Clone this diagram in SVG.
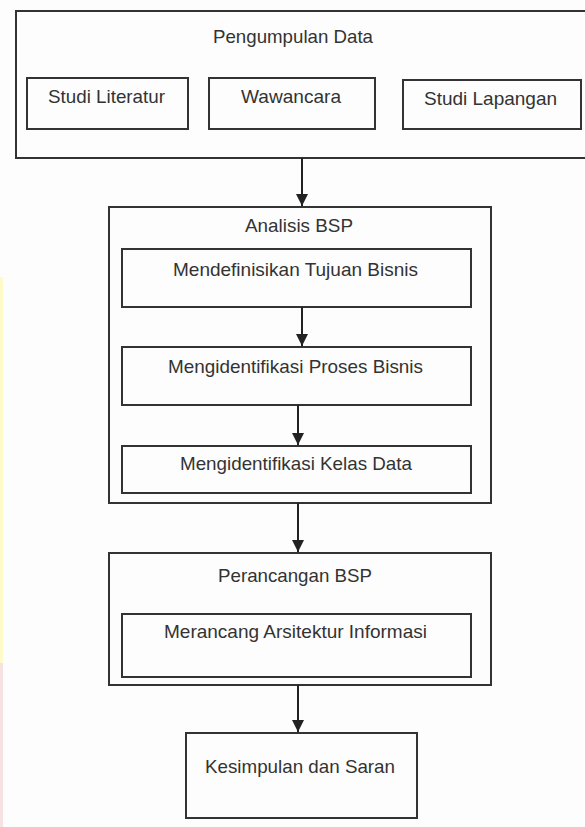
<svg xmlns="http://www.w3.org/2000/svg" width="585" height="827" viewBox="0 0 585 827">
<defs>
<style>
.box{fill:none;stroke:#333;stroke-width:2}
.inner{fill:none;stroke:#333;stroke-width:2}
.t{font-family:"Liberation Sans",Arial,sans-serif;font-size:18.5px;fill:#333;text-anchor:middle}
.ln{stroke:#222;stroke-width:2;fill:none}
</style>
<marker id="ah" markerUnits="userSpaceOnUse" markerWidth="12" markerHeight="12" viewBox="0 0 12 12" refX="12" refY="6" orient="auto">
<path d="M0,0 L12,6 L0,12 Z" fill="#222"/>
</marker>
</defs>
<rect x="0" y="0" width="585" height="827" fill="#fdfdfd"/>
<rect x="0" y="277" width="3" height="386" fill="#fffbc8"/>
<rect x="0" y="663" width="3" height="164" fill="#f6e2e2"/>

<g id="pengumpulan-data">
<rect class="box" x="16" y="11" width="580" height="147"/>
<text class="t" x="293" y="43" textLength="160" lengthAdjust="spacingAndGlyphs">Pengumpulan Data</text>
</g>
<g id="studi-literatur">
<rect class="inner" x="27" y="78" width="161" height="51"/>
<text class="t" x="106.5" y="103" textLength="117" lengthAdjust="spacingAndGlyphs">Studi Literatur</text>
</g>
<g id="wawancara">
<rect class="inner" x="209" y="78" width="166" height="51"/>
<text class="t" x="291" y="103" textLength="100" lengthAdjust="spacingAndGlyphs">Wawancara</text>
</g>
<g id="studi-lapangan">
<rect class="inner" x="403" y="80" width="178" height="49"/>
<text class="t" x="490.5" y="105" textLength="133" lengthAdjust="spacingAndGlyphs">Studi Lapangan</text>
</g>

<g id="analisis-bsp">
<rect class="box" x="109" y="207" width="382" height="296"/>
<text class="t" x="299" y="232" textLength="108" lengthAdjust="spacingAndGlyphs">Analisis BSP</text>
</g>
<g id="tujuan-bisnis">
<rect class="inner" x="122" y="249" width="349" height="58"/>
<text class="t" x="295.5" y="276" textLength="245" lengthAdjust="spacingAndGlyphs">Mendefinisikan Tujuan Bisnis</text>
</g>
<g id="proses-bisnis">
<rect class="inner" x="122" y="347" width="349" height="58"/>
<text class="t" x="295.5" y="373" textLength="255" lengthAdjust="spacingAndGlyphs">Mengidentifikasi Proses Bisnis</text>
</g>
<g id="kelas-data">
<rect class="inner" x="122" y="446" width="349" height="47"/>
<text class="t" x="296" y="470" textLength="232" lengthAdjust="spacingAndGlyphs">Mengidentifikasi Kelas Data</text>
</g>

<g id="perancangan-bsp">
<rect class="box" x="109" y="553" width="382" height="132"/>
<text class="t" x="295" y="582" textLength="154" lengthAdjust="spacingAndGlyphs">Perancangan BSP</text>
</g>
<g id="arsitektur-informasi">
<rect class="inner" x="122" y="614" width="349" height="63"/>
<text class="t" x="295.5" y="638" textLength="263" lengthAdjust="spacingAndGlyphs">Merancang Arsitektur Informasi</text>
</g>

<g id="kesimpulan-saran">
<rect class="box" x="186" y="733" width="231" height="85"/>
<text class="t" x="300" y="773" textLength="190" lengthAdjust="spacingAndGlyphs">Kesimpulan dan Saran</text>
</g>

<g id="connectors">
<line class="ln" x1="302" y1="158" x2="302" y2="206" marker-end="url(#ah)"/>
<line class="ln" x1="302" y1="307" x2="302" y2="346" marker-end="url(#ah)"/>
<line class="ln" x1="298" y1="405" x2="298" y2="445" marker-end="url(#ah)"/>
<line class="ln" x1="298" y1="503" x2="298" y2="552" marker-end="url(#ah)"/>
<line class="ln" x1="298" y1="685" x2="298" y2="732" marker-end="url(#ah)"/>
</g>
</svg>
